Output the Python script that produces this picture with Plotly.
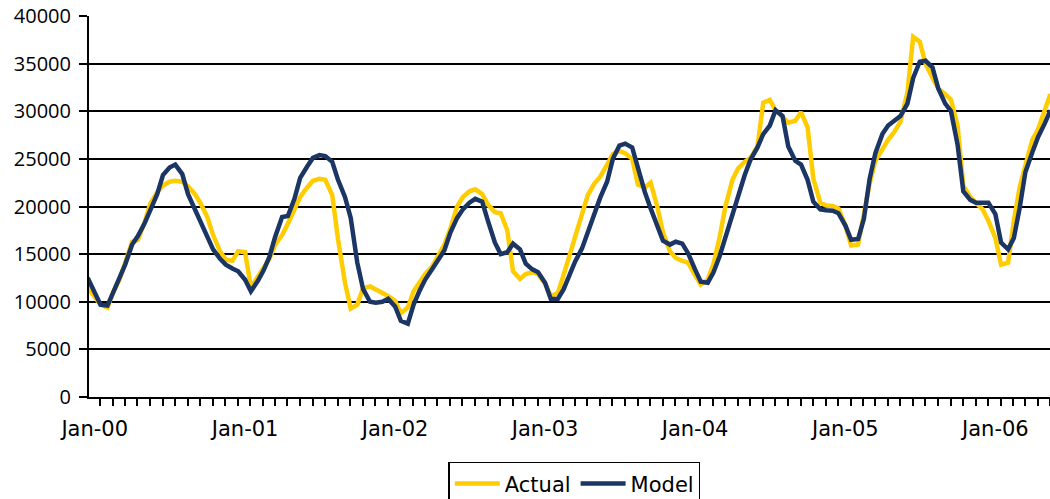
import pandas as pd
import plotly.graph_objects as go

# half-monthly readings, Dec-99 .. May-06
actual = [
    11500, 10600, 9700, 9400, 11000, 12300, 14000, 16300, 16500, 18300,
    20300, 21500, 22200, 22600, 22700, 22600, 22100, 21300, 20300, 18900,
    17000, 15300, 14400, 14300, 15300, 15200, 11500, 12600, 13500, 14500,
    16000, 17000, 18200, 19600, 21000, 22000, 22700, 22900, 22800, 21200,
    16600, 12000, 9300, 9700, 11400, 11600, 11300, 11000, 10600, 10100,
    8800, 9400, 11100, 12000, 12900, 13700, 14800, 16000, 17600, 20000,
    21000, 21600, 21800, 21300, 20200, 19400, 19300, 17500, 13200, 12400,
    12900, 13100, 12900, 11900, 10600, 10900, 12800, 14800, 16700, 19500,
    21200, 22400, 23100, 24400, 25500, 25800, 25600, 25000, 22300, 22000,
    22500, 20000, 17300, 15300, 14600, 14300, 14100, 12800, 11800, 12300,
    14000, 16800, 20000, 22800, 24000, 24700, 25100, 26300, 30900, 31200,
    30100, 29400, 28800, 29000, 29900, 28300, 22900, 20400, 20100, 20050,
    19800, 18000, 15900, 16000, 19000, 22400, 24800, 26000, 27000, 27900,
    28900, 32000, 37800, 37300, 35000, 33500, 32400, 31800, 31200, 28500,
    22200, 21000, 20400, 19700, 18500, 16700, 13900, 14100, 18500, 22000,
    24300, 27000, 28100, 30000, 31800,
]

model = [
    12500, 11000, 9700, 9600, 11000, 12300, 13900, 16000, 16900, 18200,
    19700, 21300, 23300, 24100, 24400, 23400, 21300, 19700, 18100, 16700,
    15500, 14500, 13900, 13500, 13200, 12300, 11100, 12200, 13300, 14700,
    16800, 18900, 19000, 20800, 23000, 24200, 25100, 25400, 25300, 24700,
    22800, 21000, 18800, 14100, 11350, 10000, 9900, 10000, 10300, 9500,
    8000, 7700, 9700, 11100, 12300, 13400, 14400, 15400, 17200, 18800,
    19700, 20400, 20800, 20500, 18500, 16200, 15000, 15200, 16100, 15500,
    14000, 13400, 13100, 12000, 10300, 10300, 11300, 12900, 14200, 15600,
    17300, 19000, 20900, 22600, 25000, 26400, 26600, 26200, 24000, 21500,
    19800, 18000, 16400, 16000, 16300, 16100, 15100, 13400, 12100, 12000,
    13100, 14800, 16800, 19000, 21400, 23300, 24900, 26200, 27600, 28500,
    30100, 29500, 26300, 24800, 24400, 22800, 20500, 19700, 19600, 19550,
    19300, 18000, 16500, 16600, 18700, 22900, 25600, 27600, 28500, 29000,
    29500, 30800, 33500, 35200, 35300, 34600, 32400, 30800, 30000, 26500,
    21600, 20700, 20400, 20400, 20400, 19200, 16200, 15500, 16700, 19800,
    23600, 25700, 27300, 28700, 30100,
]

dates = pd.date_range("1999-12-15", periods=len(actual), freq="SMS")

fig = go.Figure()
fig.add_trace(go.Scatter(x=dates, y=actual, mode="lines", name="Actual",
                         line=dict(color="#FFCC00", width=4.5)))
fig.add_trace(go.Scatter(x=dates, y=model, mode="lines", name="Model",
                         line=dict(color="#1B3564", width=4.5)))

yfont = dict(family="Open Sans", size=20, color="black")
xfont = dict(family="DejaVu Sans", size=21, color="black")

fig.update_layout(
    width=1050, height=499,
    margin=dict(l=89, r=0, t=16, b=102, autoexpand=False),
    paper_bgcolor="white",
    plot_bgcolor="white",
    font=yfont,
    showlegend=True,
    legend=dict(orientation="h", x=0.505, xanchor="center", y=-0.17, yanchor="top",
                bordercolor="black", borderwidth=1.5,
                font=dict(family="DejaVu Sans", size=21, color="black"),
                itemwidth=45, tracegroupgap=0),
    xaxis=dict(
        type="date", automargin=False,
        range=["1999-12-18", "2006-05-14"],
        tick0="2000-01-01", dtick="M12", tickformat="%b-%y",
        tickfont=xfont,
        ticks="outside", ticklen=12, tickcolor="rgba(0,0,0,0)",
        showline=True, linecolor="black", linewidth=2,
        showgrid=False, zeroline=False,
        minor=dict(ticks="outside", ticklen=7, tickwidth=2, tickcolor="black",
                   tick0="2000-01-14", dtick="M1", showgrid=False),
    ),
    yaxis=dict(
        automargin=False,
        range=[0, 40000], dtick=5000, tickformat="d",
        ticks="outside", ticklen=8, tickwidth=2, tickcolor="black",
        ticklabelstandoff=4,
        showline=True, linecolor="black", linewidth=2,
        showgrid=True, gridcolor="black", gridwidth=1.6,
        zeroline=False,
    ),
)

# page has default body margins; drop them so the 1050x499 figure fills the window
fig.write_html(
    "out.html",
    config={"displayModeBar": False},
    post_script="document.body.style.margin='0';document.body.style.overflow='hidden';",
)
